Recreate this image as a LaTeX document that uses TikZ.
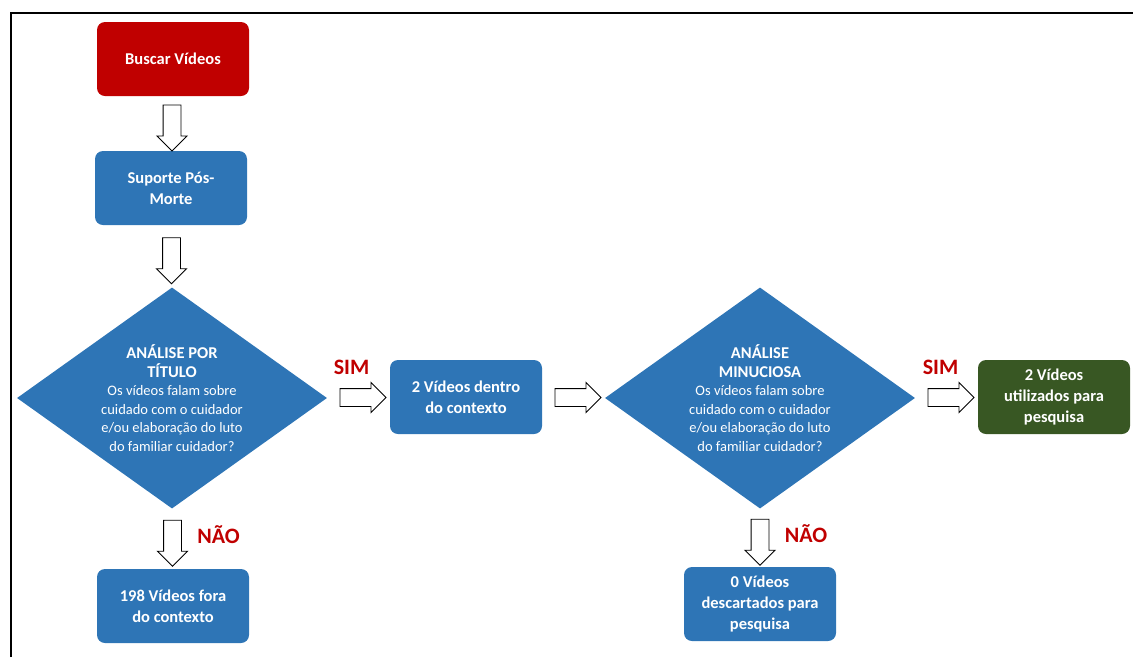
\documentclass[tikz,border=0pt]{standalone}
\usepackage{fontspec}
\setmainfont{Carlito}
\usetikzlibrary{shapes.geometric,shapes.arrows,calc}

\definecolor{fluxred}{HTML}{C00000}
\definecolor{fluxblue}{HTML}{2E75B6}
\definecolor{fluxgreen}{HTML}{385723}

\begin{document}
\begin{tikzpicture}[
    x=1pt, y=-1pt,
    box/.style={fill=fluxblue, rounded corners=8pt, minimum width=152pt, minimum height=74pt,
        inner sep=2pt, text=white, align=center, font=\bfseries\fontsize{16.5}{21}\selectfont},
    decision/.style={diamond, aspect=1.4, fill=fluxblue, minimum width=310pt, minimum height=221pt,
        inner sep=0pt, text=white, align=center, font=\fontsize{14.5}{18.5}\selectfont},
    blockarrow/.style={single arrow, draw, fill=white, line width=0.9pt, minimum height=46pt,
        minimum width=0pt, inner xsep=0pt, inner ysep=8.5pt, single arrow head extend=6pt},
    answer/.style={text=fluxred, font=\bfseries\fontsize{22}{26}\selectfont}
]
\useasboundingbox (0,0) rectangle (1133,657);

% frame
\draw[line width=2pt] (11,657) -- (11,13) -- (1133,13);

% Left column
\node (buscar) [box, fill=fluxred] at (173,59) {Buscar Vídeos};
\node (suporte) [box] at (171,188) {Suporte Pós-\\Morte};
\node (titulo) [decision] at (172,398) {{\bfseries\fontsize{16.5}{20}\selectfont ANÁLISE POR}\\{\bfseries\fontsize{16.5}{20}\selectfont TÍTULO}\\Os vídeos falam sobre\\cuidado com o cuidador\\e/ou elaboração do luto\\do familiar cuidador?};
\node (fora) [box] at (173,606) {198 Vídeos fora\\do contexto};

% Middle and right
\node (dentro) [box] at (466,397) {2 Vídeos dentro\\do contexto};
\node (minuciosa) [decision] at (760,398) {{\bfseries\fontsize{16.5}{20}\selectfont ANÁLISE}\\{\bfseries\fontsize{16.5}{20}\selectfont MINUCIOSA}\\Os vídeos falam sobre\\cuidado com o cuidador\\e/ou elaboração do luto\\do familiar cuidador?};
\node (descartados) [box] at (760,604) {0 Vídeos\\descartados para\\pesquisa};
\node (utilizados) [box, fill=fluxgreen] at (1054,397) {2 Vídeos\\utilizados para\\pesquisa};

% Block arrows
\node (a1) [blockarrow, rotate=-90] at ($(buscar.south)!0.5!(suporte.north)$) {};
\node (a2) [blockarrow, rotate=-90] at ($(suporte.south)!0.5!(titulo.north)$) {};
\node (a3) [blockarrow] at ($(titulo.east)!0.5!(dentro.west)$) {};
\node (a4) [blockarrow] at ($(dentro.east)!0.5!(minuciosa.west)$) {};
\node (a5) [blockarrow] at ($(minuciosa.east)!0.5!(utilizados.west)$) {};
\node (a6) [blockarrow, rotate=-90] at ($(titulo.south)!0.5!(fora.north)$) {};
\node (a7) [blockarrow, rotate=-90] at ($(minuciosa.south)!0.5!(descartados.north)$) {};

% Answers
\node (sim1) [answer] at ($(a3)+(-7,-30)$) {SIM};
\node (sim2) [answer] at ($(a5)+(-6,-30)$) {SIM};
\node (nao1) [answer] at ($(a6)+(46,-4)$) {NÃO};
\node (nao2) [answer] at ($(a7)+(46,-4)$) {NÃO};

\end{tikzpicture}
\end{document}
